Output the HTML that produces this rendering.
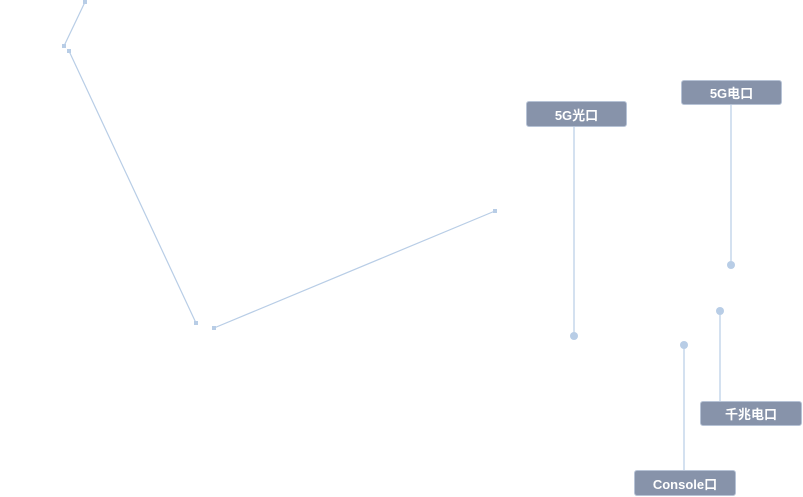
<!DOCTYPE html>
<html><head><meta charset="utf-8"><style>
html,body{margin:0;padding:0;background:#fff;width:803px;height:497px;overflow:hidden}
.b{position:absolute;background:#8793aa;border:1px solid #b7c3d6;border-radius:3px;color:#fff;font:bold 13px "Liberation Sans","Noto Sans CJK SC",sans-serif;display:flex;align-items:center;justify-content:center;box-sizing:border-box}
</style></head><body>
<svg width="803" height="497" style="position:absolute;left:0;top:0">
<g stroke="#b8cde6" stroke-width="1.2" fill="none">
<line x1="85" y1="2" x2="64" y2="46"/>
<line x1="69" y1="51" x2="196" y2="323"/>
<line x1="214" y1="328" x2="495" y2="211"/>
<line x1="574" y1="127" x2="574" y2="336"/>
<line x1="731" y1="105" x2="731" y2="265"/>
<line x1="720" y1="311" x2="720" y2="401"/>
<line x1="684" y1="345" x2="684" y2="470"/>
</g>
<g fill="#b8cde6">
<rect x="83" y="0" width="4" height="4"/><rect x="62" y="44" width="4" height="4"/>
<rect x="67" y="49" width="4" height="4"/><rect x="194" y="321" width="4" height="4"/>
<rect x="212" y="326" width="4" height="4"/><rect x="493" y="209" width="4" height="4"/>
<circle cx="574" cy="336" r="4"/><circle cx="731" cy="265" r="4"/>
<circle cx="720" cy="311" r="4"/><circle cx="684" cy="345" r="4"/>
</g>
</svg>
<div class="b" style="left:526px;top:101px;width:101px;height:26px">5G光口</div>
<div class="b" style="left:681px;top:80px;width:101px;height:25px">5G电口</div>
<div class="b" style="left:700px;top:401px;width:102px;height:25px">千兆电口</div>
<div class="b" style="left:634px;top:470px;width:102px;height:26px">Console口</div>
</body></html>
